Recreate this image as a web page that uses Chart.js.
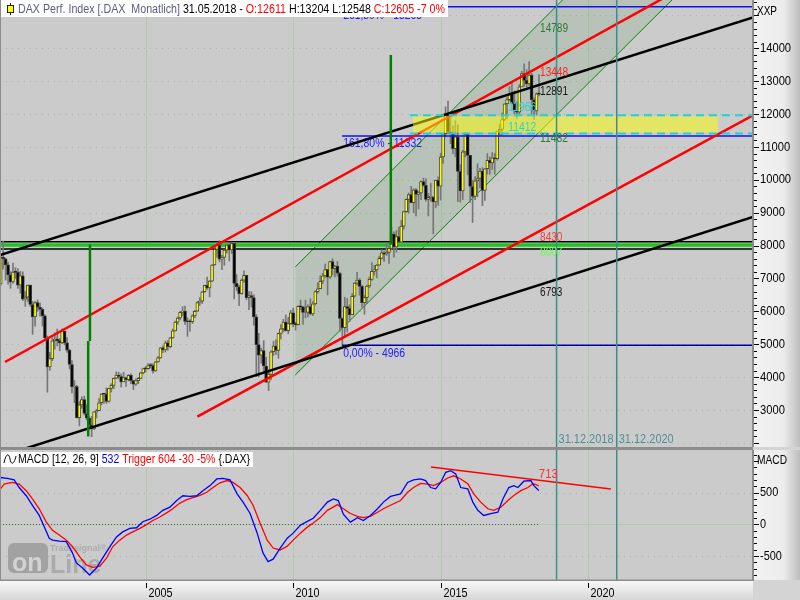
<!DOCTYPE html>
<html><head><meta charset="utf-8">
<script src="https://cdn.jsdelivr.net/npm/chart.js@4.4.1/dist/chart.umd.min.js"></script>
<style>
html,body{margin:0;padding:0;width:800px;height:600px;overflow:hidden;background:#d4d4d4}
canvas{position:absolute;left:0}
#c1{top:0}
#c2{top:450px}
#sep{position:absolute;left:0;top:447px;width:753px;height:3px;background:#8c8c8c}
</style></head><body>
<canvas id="c1" width="800" height="447"></canvas>
<div id="sep"></div>
<canvas id="c2" width="800" height="150"></canvas>
<script>
// ---------------- DATA ----------------
const years = [2000,2001,2002,2003,2004,2005,2006,2007,2008,2009,2010,2011,2012,2013,2014,2015,2016,2017,2018];
const opens = [
6958,6835,7644,7599,7414,7109,6898,7191,7185,6798,7077,6372,
6434,6795,6208,5830,6265,6123,6058,5862,5188,4308,4560,5102,
5160,5108,5039,5397,5041,4818,4383,3700,3712,2769,3153,3320,
2893,2748,2547,2424,2942,2982,3221,3487,3484,3257,3655,3746,
3965,4058,4018,3857,3985,3921,4052,3895,3785,3893,3960,4126,
4256,4254,4350,4349,4185,4461,4587,4887,4829,5044,4929,5193,
5408,5674,5797,5970,6010,5692,5683,5682,5860,6004,6269,6309,
6597,6789,6716,6917,7409,7884,8007,7584,7638,7862,8019,7871,
8067,6852,6748,6535,6949,7097,6418,6480,6422,5831,4988,4669,
4810,4338,3844,4085,4770,4941,4809,5332,5465,5675,5415,5625,
5957,5608,5598,6154,6136,5964,5966,6148,5925,6229,6601,6688,
6914,7077,7272,7041,7514,7294,7376,7159,5785,5502,6141,6089,
5898,6458,6856,6947,6761,6264,6416,6772,6970,7216,7260,7405,
7612,7776,7742,7795,7914,8349,7959,8276,8104,8594,9033,9406,
9552,9306,9692,9556,9603,9943,9833,9407,9470,9474,9327,9981,
9806,10694,11402,11966,11454,11413,10945,11309,10259,9660,10850,11382,
10743,9798,9495,9966,10039,10263,9680,10337,10593,10511,10665,10640,
11481,11535,11834,12313,12438,12615,12325,12118,12056,12829,13230,13024,
12918,13189,12436,12097,12611];
const highs = [
7190,7733,8136,7620,7500,7210,7470,7330,7300,7220,7200,6600,
6800,6800,6300,6300,6350,6250,6100,5900,5250,4750,5200,5350,
5460,5180,5467,5400,5200,4850,4500,3900,3750,3250,3400,3420,
3160,2800,2800,2960,3020,3350,3500,3500,3670,3660,3800,3970,
4160,4150,4100,4150,4000,4080,4100,3900,3950,3990,4150,4272,
4320,4410,4420,4400,4470,4630,4900,4950,5100,5110,5210,5460,
5700,5830,6000,6140,6160,5800,5750,5900,6030,6300,6420,6610,
6800,7040,6940,7420,7900,8100,8151,7700,7880,8030,8060,8100,
8100,7120,6800,6980,7230,7100,6600,6600,6500,5900,5330,4880,
5110,4600,4230,4810,5090,5130,5340,5600,5760,5890,5820,6030,
6100,5670,6170,6340,6150,6340,6200,6380,6300,6620,6870,7080,
7160,7440,7280,7530,7600,7400,7520,7190,5800,6430,6390,6200,
6540,6880,7190,7000,6800,6480,6800,7050,7480,7400,7430,7680,
7870,7830,8080,7970,8560,8420,8460,8560,8770,9050,9420,9600,
9800,9730,9730,9650,9960,10050,10030,9590,9890,9490,9990,10090,
10810,11400,12220,12391,11920,11640,11800,11670,10460,10900,11430,11400,
10743,9990,10100,10490,10350,10370,10350,10800,10700,10830,10800,11480,
11690,12030,12310,12500,12840,12950,12700,12370,12900,13300,13530,13350,
13597,13240,12490,12650,13204];
const lows = [
6531,6790,7280,6950,6830,6700,6850,7000,6700,6550,6330,6150,
6300,6150,5300,5550,6000,5850,5550,5150,3540,4200,4500,4850,
4950,4800,5020,4980,4750,4250,3520,3220,2750,2519,3050,2850,
2700,2450,2188,2400,2760,2980,3150,3200,3200,3240,3550,3650,
3950,3950,3690,3850,3720,3880,3800,3620,3750,3800,3950,4100,
4160,4240,4280,4120,4170,4450,4570,4740,4760,4820,4890,5180,
5400,5600,5740,5870,5600,5240,5400,5630,5800,6000,6180,6240,
6580,6670,6440,6900,7400,7650,7500,7270,7400,7770,7530,7760,
6380,6630,6170,6520,6880,6350,6050,6130,5580,4014,4012,4420,
4180,3840,3589,3920,4660,4680,4570,5160,5370,5400,5320,5600,
5530,5430,5580,6050,5600,5800,5830,5900,5870,6190,6550,6690,
6840,7040,6500,7000,7100,7050,7070,5400,4966,5200,5370,5700,
5900,6430,6800,6490,6130,5910,6230,6720,6940,7100,7020,7400,
7590,7520,7700,7460,7890,7650,7800,8080,8090,8500,9010,8990,
9300,9000,8900,9110,9400,9800,9350,8900,9350,8355,9150,9220,
9380,10500,11300,11400,11100,10800,10700,9338,9325,9400,10700,10150,
9310,8699,9400,9480,9750,9214,9370,10170,10170,10310,10170,10600,
11350,11350,11800,11860,12400,12320,12000,11870,12000,12830,12840,12830,
12870,12003,11831,11970,12548];
const closes = [
6835,7644,7599,7414,7109,6898,7191,7185,6798,7077,6372,6434,
6795,6208,5830,6265,6123,6058,5862,5188,4308,4560,5102,5160,
5108,5039,5397,5041,4818,4383,3700,3712,2769,3153,3320,2893,
2748,2547,2424,2942,2982,3221,3487,3484,3257,3655,3746,3965,
4058,4018,3857,3985,3921,4052,3895,3785,3893,3960,4126,4256,
4254,4350,4349,4185,4461,4587,4887,4829,5044,4929,5193,5408,
5674,5797,5970,6010,5692,5683,5682,5860,6004,6269,6309,6597,
6789,6716,6917,7409,7884,8007,7584,7638,7862,8019,7871,8067,
6852,6748,6535,6949,7097,6418,6480,6422,5831,4988,4669,4810,
4338,3844,4085,4770,4941,4809,5332,5465,5675,5415,5625,5957,
5608,5598,6154,6136,5964,5966,6148,5925,6229,6601,6688,6914,
7077,7272,7041,7514,7294,7376,7159,5785,5502,6141,6089,5898,
6458,6856,6947,6761,6264,6416,6772,6970,7216,7260,7405,7612,
7776,7742,7795,7914,8349,7959,8276,8104,8594,9033,9406,9552,
9306,9692,9556,9603,9943,9833,9407,9470,9474,9327,9981,9806,
10694,11402,11966,11454,11413,10945,11309,10259,9660,10850,11382,10743,
9798,9495,9966,10039,10263,9680,10337,10593,10511,10665,10640,11481,
11535,11834,12313,12438,12615,12325,12118,12056,12829,13230,13024,12918,
13189,12436,12097,12612,12605];

// MACD (blue) and Trigger (red): [decimal year, value]
const macdYears = [2000.03,2000.31,2000.54,2000.71,2000.95,2001.16,2001.39,2001.56,2001.73,2001.84,2002.07,2002.31,2002.52,2002.65,2002.86,2003.10,2003.33,2003.54,2003.78,2004.01,2004.22,2004.46,2004.69,2004.90,2005.14,2005.37,2005.58,2005.82,2006.05,2006.26,2006.50,2006.73,2006.94,2007.18,2007.41,2007.62,2007.86,2008.10,2008.30,2008.54,2008.78,2008.98,2009.15,2009.32,2009.56,2009.80,2010.00,2010.24,2010.48,2010.68,2010.92,2011.16,2011.36,2011.53,2011.70,2011.94,2012.18,2012.38,2012.62,2012.86,2013.06,2013.30,2013.64,2013.88,2014.08,2014.32,2014.49,2014.66,2014.83,2015.00,2015.17,2015.34,2015.51,2015.68,2015.92,2016.09,2016.26,2016.46,2016.70,2016.94,2017.11,2017.31,2017.48,2017.62,2017.82,2018.06,2018.16,2018.30,2018.33];
const macdValues = [740,725,700,580,450,300,140,-40,-220,-250,-265,-275,-455,-610,-690,-800,-690,-535,-355,-200,-120,-65,-55,40,80,140,220,270,375,450,440,450,530,610,715,725,700,480,350,170,-140,-455,-590,-550,-375,-220,-140,-15,45,95,220,350,400,375,160,35,105,60,140,245,350,440,480,660,700,715,690,580,560,660,820,845,795,580,560,350,220,140,170,190,400,580,610,580,680,690,610,545,532];
const trigYears = [2000.03,2000.20,2000.48,2000.71,2000.95,2001.16,2001.39,2001.63,2001.84,2002.07,2002.31,2002.52,2002.76,2002.99,2003.20,2003.44,2003.67,2003.88,2004.12,2004.35,2004.56,2004.80,2005.03,2005.24,2005.48,2005.71,2005.92,2006.16,2006.39,2006.60,2006.84,2007.07,2007.28,2007.52,2007.76,2007.96,2008.20,2008.44,2008.64,2008.88,2009.12,2009.32,2009.56,2009.80,2010.00,2010.24,2010.48,2010.68,2010.92,2011.16,2011.50,2011.70,2011.94,2012.18,2012.38,2012.62,2012.86,2013.06,2013.30,2013.64,2013.88,2014.08,2014.32,2014.56,2014.76,2015.00,2015.24,2015.44,2015.68,2015.92,2016.12,2016.36,2016.60,2016.80,2017.04,2017.28,2017.48,2017.72,2017.96,2018.13,2018.23,2018.33];
const trigValues = [530,635,660,635,530,400,245,35,-95,-170,-250,-355,-510,-640,-680,-665,-535,-355,-250,-170,-120,-65,-5,60,115,180,245,335,390,420,455,505,580,655,690,660,580,455,300,15,-250,-375,-405,-345,-250,-140,-45,20,105,220,310,245,170,125,105,125,190,245,300,375,505,580,645,635,610,660,730,765,715,640,480,350,245,220,270,375,455,530,580,640,625,604];

// axis ticks
const yearTicks = [2005,2010,2015,2020];
const priceTicks = [3000,4000,5000,6000,7000,8000,9000,10000,11000,12000,13000,14000];
const gridLevels = [2000,3000,4000,5000,6000,7000,8000,9000,10000,11000,12000,13000,14000,15000];
const macdTicks = [-500,0,500];

// drawn analysis objects: [year, value] endpoints
const blackUpper = [[2000.06,7713],[2025.59,14935]];
const blackLower = [[2000.06,1583],[2025.59,8869]];
const redUpper   = [[2000.23,4459],[2023.0,15746]];
const redLower   = [[2006.75,2800],[2025.59,11960]];
const chanUpper  = [[2010.07,7349],[2022.9,18845]];
const chanLower  = [[2010.07,4064],[2022.9,15521]];
const hLevels    = {blackTop:8118, green:8015, blackBottom:7896};
const fibLevels  = {f2618:15265, f1618:11332, f0:4966};
const fibStart   = 2011.66;
const cyanLevels = [11966,11412];
const cyanStart  = 2013.96;
const yellowBand = {x1:2014.06, x2:2024.40, top:11930, bottom:11430};
const greenVert1a = [[2003.11,8030],[2003.11,5100]];
const greenVert1b = [[2003.05,5100],[2003.05,2190]];
const greenVert2  = [[2013.31,8030],[2013.31,13796]];
const dateLines  = [2018.93, 2020.97];
const macdTrend  = [[2014.67,904],[2020.77,557]];
const macdZeroEnd = 2018.33;

const X_MIN = 2000.06, X_MAX = 2025.59;
const Y_MIN = 1874, Y_MAX = 15469;
const M_MIN = -879, M_MAX = 1172;

// --------------- helpers ---------------
const FONT = '"Liberation Sans", Arial, sans-serif';
function txt(ctx, s, x, y, color, size, sx, align, base) {
  ctx.save();
  ctx.font = size + 'px ' + FONT;
  ctx.fillStyle = color;
  ctx.textBaseline = base || 'middle';
  ctx.textAlign = align || 'left';
  ctx.translate(x, y); ctx.scale(sx, 1);
  ctx.fillText(s, 0, 0);
  ctx.restore();
}
function fitTxt(ctx, s, x, y, color, size, width, base) {
  ctx.save(); ctx.font = size + 'px ' + FONT;
  const w = ctx.measureText(s).width; ctx.restore();
  txt(ctx, s, x, y, color, size, width / w, 'left', base);
}
function segTxt(ctx, segs, x, y, size, width) {
  ctx.save(); ctx.font = size + 'px ' + FONT;
  let tot = 0; segs.forEach(s => tot += ctx.measureText(s[0]).width);
  const sx = width / tot;
  segs.forEach(s => { txt(ctx, s[0], x, y, s[1], size, sx); x += ctx.measureText(s[0]).width * sx; });
  ctx.restore();
}
const pts = arr => arr.map(p => ({x: p[0], y: p[1]}));
function lineDs(data, color, width, order, extra) {
  return Object.assign({type:'line', data: pts(data), borderColor: color, borderWidth: width,
    pointRadius: 0, fill: false, tension: 0, order: order}, extra || {});
}

const monthT = [], wickData = [], bodyData = [], bodyFill = [], bodyBorder = [];
let idx = 0;
years.forEach(y => {
  for (let m = 1; m <= 12 && idx < closes.length; m++, idx++) {
    const t = y + (m - 1) / 12;
    monthT.push(t);
    wickData.push({x: t, y: [lows[idx], highs[idx]]});
    bodyData.push({x: t, y: [opens[idx], closes[idx]]});
    const up = closes[idx] >= opens[idx];
    bodyFill.push(up ? '#ffff00' : '#000000');
    bodyBorder.push(up ? '#4a4a4a' : '#3a3a3a');
  }
});

// --------------- main chart ---------------
const mainPlugin = {
  id: 'mainDeco',
  beforeDraw(chart) {
    const {ctx, chartArea: a} = chart;
    const xs = chart.scales.x, ys = chart.scales.y;
    ctx.save();
    ctx.fillStyle = '#cbcbcb';
    ctx.fillRect(a.left, a.top, a.right - a.left, a.bottom - a.top);
    ctx.strokeStyle = '#aecbae'; ctx.lineWidth = 1;
    yearTicks.forEach(yr => { const px = Math.round(xs.getPixelForValue(yr)) + 0.5;
      ctx.beginPath(); ctx.moveTo(px, a.top); ctx.lineTo(px, a.bottom); ctx.stroke(); });
    ctx.setLineDash([1, 5]); ctx.strokeStyle = '#9ebd9e';
    gridLevels.forEach(v => { const py = Math.round(ys.getPixelForValue(v)) + 0.5;
      ctx.beginPath(); ctx.moveTo(a.left, py); ctx.lineTo(a.right, py); ctx.stroke(); });
    ctx.restore();
    // fib labels (drawn beneath the lines)
    const fx = xs.getPixelForValue(fibStart) + 1;
    fitTxt(ctx, '261,80% - 15265', fx, ys.getPixelForValue(fibLevels.f2618) + 9, '#2020ff', 13, 79);
    fitTxt(ctx, '161,80% - 11332', fx, ys.getPixelForValue(fibLevels.f1618) + 7, '#2020ff', 13, 79);
    fitTxt(ctx, '0,00% - 4966', fx, ys.getPixelForValue(fibLevels.f0) + 8, '#2020ff', 13, 62);
  },
  afterDraw(chart) {
    const {ctx, chartArea: a} = chart;
    const xs = chart.scales.x, ys = chart.scales.y;
    // value labels at last bar
    const lx = xs.getPixelForValue(2018.37), cx = xs.getPixelForValue(2017.29);
    const L = [
      ['14789', 14789, 6, '#2e7a2e', lx], ['13448', 13448, 6, '#ff2020', lx], ['12891', 12891, 7, '#151515', lx],
      ['11966', 11966, -8, '#2fd0d0', cx], ['11412', 11412, -6, '#2fd0d0', cx], ['11482', 11482, 7, '#2e7a2e', lx],
      ['8430', 8430, 6, '#ff3a3a', lx], ['8007', 8007, 7, '#66ff55', lx], ['6793', 6793, 7, '#151515', lx]];
    L.forEach(l => fitTxt(ctx, l[0], l[4], ys.getPixelForValue(l[1]) + l[2], l[3], 13, l[0].length * 5.6));
    // date labels
    fitTxt(ctx, '31.12.2018', xs.getPixelForValue(dateLines[0]) + 2, 439, '#4f8f99', 13, 55);
    fitTxt(ctx, '31.12.2020', xs.getPixelForValue(dateLines[1]) + 2, 439, '#4f8f99', 13, 55);
    // header
    ctx.fillStyle = '#ffffff'; ctx.fillRect(0, 0, 448, 17);
    ctx.strokeStyle = '#222'; ctx.lineWidth = 1;
    ctx.beginPath(); ctx.moveTo(10.5, 3); ctx.lineTo(10.5, 15); ctx.stroke();
    ctx.fillStyle = '#ffff00'; ctx.fillRect(8, 6, 5, 6); ctx.strokeRect(7.5, 5.5, 6, 7);
    segTxt(ctx, [['DAX Perf. Index [.DAX  Monatlich]', '#5c5c80'], [' 31.05.2018 - ', '#000'],
      ['O:12611', '#ff0000'], [' H:13204 L:12548 ', '#000'], ['C:12605 -7 0%', '#ff0000']], 18, 9.5, 12.5, 427);
    // right axis strip
    const g = ctx.createLinearGradient(753, 0, 800, 0);
    g.addColorStop(0, '#f2f2f2'); g.addColorStop(0.65, '#ececec'); g.addColorStop(1, '#bdbdbd');
    ctx.fillStyle = g; ctx.fillRect(753, 0, 47, chart.height);
    ctx.fillStyle = '#8c8c8c'; ctx.fillRect(752, 0, 2, chart.height);
    ctx.fillRect(0, 0, 1, chart.height);
    ctx.strokeStyle = '#000'; ctx.lineWidth = 1;
    for (let v = 2000; v <= 15400; v += 200) {
      const py = Math.round(ys.getPixelForValue(v)) + 0.5;
      const major = v % 1000 === 0;
      ctx.beginPath(); ctx.moveTo(754, py); ctx.lineTo(major ? 759 : 757, py); ctx.stroke();
    }
    priceTicks.forEach(v => txt(ctx, String(v), 760, ys.getPixelForValue(v), '#000', 13, 0.86));
    fitTxt(ctx, 'XXP', 757, 11, '#000', 13, 20);
  }
};

const teal = '#3e8c8c';
new Chart(document.getElementById('c1'), {
  type: 'bar',
  data: { datasets: [
    lineDs(chanUpper, '#008a00', 1, 100),
    lineDs(chanLower, '#008a00', 1, 100, {fill: '-1', backgroundColor: 'rgba(0,110,0,0.085)'}),
    lineDs([[X_MIN, hLevels.blackTop], [X_MAX, hLevels.blackTop]], '#000', 1.6, 95),
    lineDs([[X_MIN, hLevels.blackBottom], [X_MAX, hLevels.blackBottom]], '#000', 1.6, 95),
    lineDs([[X_MIN, hLevels.green], [X_MAX, hLevels.green]], '#1fc41f', 3.5, 94),
    {type: 'bar', data: wickData, backgroundColor: '#777777', barThickness: 1, grouped: false, order: 90},
    {type: 'bar', data: bodyData, backgroundColor: bodyFill, borderColor: bodyBorder, borderWidth: 1,
     borderSkipped: false, barThickness: 3, minBarLength: 1, grouped: false, order: 89},
    lineDs([[fibStart, fibLevels.f2618], [X_MAX, fibLevels.f2618]], '#1010f0', 1.5, 70),
    lineDs([[fibStart, fibLevels.f1618], [X_MAX, fibLevels.f1618]], '#1010f0', 1.5, 70),
    lineDs([[fibStart, fibLevels.f0], [X_MAX, fibLevels.f0]], '#0000a8', 1.5, 70),
    lineDs(blackUpper, '#000', 2.5, 60),
    lineDs(blackLower, '#000', 2.5, 60),
    lineDs(redUpper, '#ff0000', 2.5, 60),
    lineDs(redLower, '#ff0000', 2.5, 60),
    lineDs(greenVert1a, '#008000', 2.5, 55),
    lineDs(greenVert1b, '#008000', 2.5, 55),
    lineDs(greenVert2, '#008000', 2.5, 55),
    lineDs([[yellowBand.x1, yellowBand.top], [yellowBand.x2, yellowBand.top]], 'rgba(0,0,0,0)', 0, 50,
      {fill: {value: yellowBand.bottom}, backgroundColor: 'rgba(255,255,0,0.5)'}),
    lineDs([[cyanStart, cyanLevels[0]], [X_MAX, cyanLevels[0]]], '#22d2d2', 2, 40, {borderDash: [8, 5]}),
    lineDs([[cyanStart, cyanLevels[1]], [X_MAX, cyanLevels[1]]], '#22d2d2', 2, 40, {borderDash: [8, 5]}),
    lineDs([[dateLines[0], Y_MIN], [dateLines[0], Y_MAX]], teal, 1.5, 30),
    lineDs([[dateLines[1], Y_MIN], [dateLines[1], Y_MAX]], teal, 1.5, 30)
  ]},
  options: {
    responsive: false, animation: false, events: [],
    layout: {padding: {left: 0, top: 0, right: 47, bottom: 0}},
    plugins: {legend: {display: false}, tooltip: {enabled: false}},
    scales: {
      x: {type: 'linear', min: X_MIN, max: X_MAX, offset: false, display: false},
      y: {type: 'linear', min: Y_MIN, max: Y_MAX, display: false}
    }
  },
  plugins: [mainPlugin]
});

// --------------- MACD chart ---------------
const macdPlugin = {
  id: 'macdDeco',
  beforeDraw(chart) {
    const {ctx, chartArea: a} = chart;
    const xs = chart.scales.x, ys = chart.scales.y;
    ctx.save();
    ctx.fillStyle = '#cbcbcb'; ctx.fillRect(a.left, a.top, a.right - a.left, a.bottom - a.top);
    ctx.strokeStyle = '#aecbae'; ctx.lineWidth = 1;
    yearTicks.forEach(yr => { const px = Math.round(xs.getPixelForValue(yr)) + 0.5;
      ctx.beginPath(); ctx.moveTo(px, a.top); ctx.lineTo(px, a.bottom); ctx.stroke(); });
    const z = Math.round(ys.getPixelForValue(0)) + 0.5;
    ctx.beginPath(); ctx.moveTo(a.left, z); ctx.lineTo(a.right, z); ctx.stroke();
    ctx.setLineDash([1, 5]); ctx.strokeStyle = '#9ebd9e';
    [500, -500].forEach(v => { const py = Math.round(ys.getPixelForValue(v)) + 0.5;
      ctx.beginPath(); ctx.moveTo(a.left, py); ctx.lineTo(a.right, py); ctx.stroke(); });
    ctx.setLineDash([1, 2]); ctx.strokeStyle = '#5a5a5a';
    ctx.beginPath(); ctx.moveTo(a.left, z); ctx.lineTo(xs.getPixelForValue(macdZeroEnd), z); ctx.stroke();
    ctx.restore();
    // watermark
    ctx.save();
    ctx.fillStyle = 'rgba(135,135,135,0.6)';
    ctx.beginPath(); ctx.roundRect(8, 93, 40, 30, 6); ctx.fill();
    ctx.font = 'bold 25px ' + FONT; ctx.textBaseline = 'alphabetic';
    ctx.fillStyle = 'rgba(220,220,220,0.85)'; ctx.fillText('on', 12, 121);
    ctx.fillStyle = 'rgba(150,150,150,0.6)'; ctx.fillText('Line', 50, 123);
    ctx.font = 'bold 9px ' + FONT; ctx.fillStyle = 'rgba(160,160,160,0.7)';
    ctx.fillText('Tradesignal\u00AE', 50, 101);
    ctx.restore();
  },
  afterDraw(chart) {
    const {ctx, chartArea: a} = chart;
    const xs = chart.scales.x, ys = chart.scales.y;
    // trend label
    fitTxt(ctx, '713', xs.getPixelForValue(2018.33), ys.getPixelForValue(713) - 5, '#ff3030', 13, 19);
    // header
    ctx.fillStyle = '#ffffff'; ctx.fillRect(0, 2, 253, 15);
    ctx.strokeStyle = '#000'; ctx.lineWidth = 1;
    ctx.beginPath(); ctx.moveTo(4, 13); ctx.bezierCurveTo(6, 3, 9, 3, 10, 9); ctx.bezierCurveTo(11, 15, 14, 15, 16, 6); ctx.stroke();
    segTxt(ctx, [['MACD [12, 26, 9] ', '#000'], ['532 ', '#0000ff'], ['Trigger 604 -30 -5% ', '#ff0000'], ['{.DAX}', '#000']], 18, 10, 12.5, 232);
    // bottom axis strip
    const gb = ctx.createLinearGradient(0, 130, 0, 150);
    gb.addColorStop(0, '#fafafa'); gb.addColorStop(1, '#d6d6d6');
    ctx.fillStyle = gb; ctx.fillRect(0, 130, 753, 20);
    ctx.fillStyle = '#8c8c8c'; ctx.fillRect(0, 129.5, 753, 1.5);
    ctx.strokeStyle = '#000'; ctx.lineWidth = 1;
    yearTicks.forEach(yr => {
      const px = Math.round(xs.getPixelForValue(yr)) + 0.5;
      ctx.beginPath(); ctx.moveTo(px, 133); ctx.lineTo(px, 138); ctx.stroke();
      fitTxt(ctx, String(yr), px + 2, 143, '#000', 13, 24);
    });
    // right axis strip
    const g = ctx.createLinearGradient(753, 0, 800, 0);
    g.addColorStop(0, '#f2f2f2'); g.addColorStop(0.65, '#ececec'); g.addColorStop(1, '#bdbdbd');
    ctx.fillStyle = g; ctx.fillRect(753, 0, 47, 130);
    ctx.fillStyle = '#d4d4d4'; ctx.fillRect(753, 130, 47, 20);
    ctx.fillStyle = '#8c8c8c'; ctx.fillRect(752, 0, 2, 131);
    ctx.fillRect(0, 0, 1, 130);
    ctx.strokeStyle = '#000';
    for (let v = -800; v <= 1100; v += 100) {
      const py = Math.round(ys.getPixelForValue(v)) + 0.5;
      const major = v % 500 === 0;
      ctx.beginPath(); ctx.moveTo(754, py); ctx.lineTo(major ? 759 : 757, py); ctx.stroke();
    }
    macdTicks.forEach(v => txt(ctx, String(v), 760, ys.getPixelForValue(v), '#000', 13, 0.84));
    fitTxt(ctx, 'MACD', 757, 10, '#000', 13, 30);
  }
};

new Chart(document.getElementById('c2'), {
  type: 'line',
  data: { datasets: [
    {data: macdYears.map((t, i) => ({x: t, y: macdValues[i]})), borderColor: '#0000ff', borderWidth: 1.3, pointRadius: 0, tension: 0, order: 10},
    {data: trigYears.map((t, i) => ({x: t, y: trigValues[i]})), borderColor: '#ff0000', borderWidth: 1.3, pointRadius: 0, tension: 0, order: 11},
    lineDs(macdTrend, '#ff0000', 1.6, 5),
    lineDs([[dateLines[0], M_MIN], [dateLines[0], M_MAX]], teal, 1.5, 3),
    lineDs([[dateLines[1], M_MIN], [dateLines[1], M_MAX]], teal, 1.5, 3)
  ]},
  options: {
    responsive: false, animation: false, events: [],
    layout: {padding: {left: 0, top: 0, right: 47, bottom: 20}},
    plugins: {legend: {display: false}, tooltip: {enabled: false}},
    scales: {
      x: {type: 'linear', min: X_MIN, max: X_MAX, offset: false, display: false},
      y: {type: 'linear', min: M_MIN, max: M_MAX, display: false}
    }
  },
  plugins: [macdPlugin]
});
</script></body></html>
